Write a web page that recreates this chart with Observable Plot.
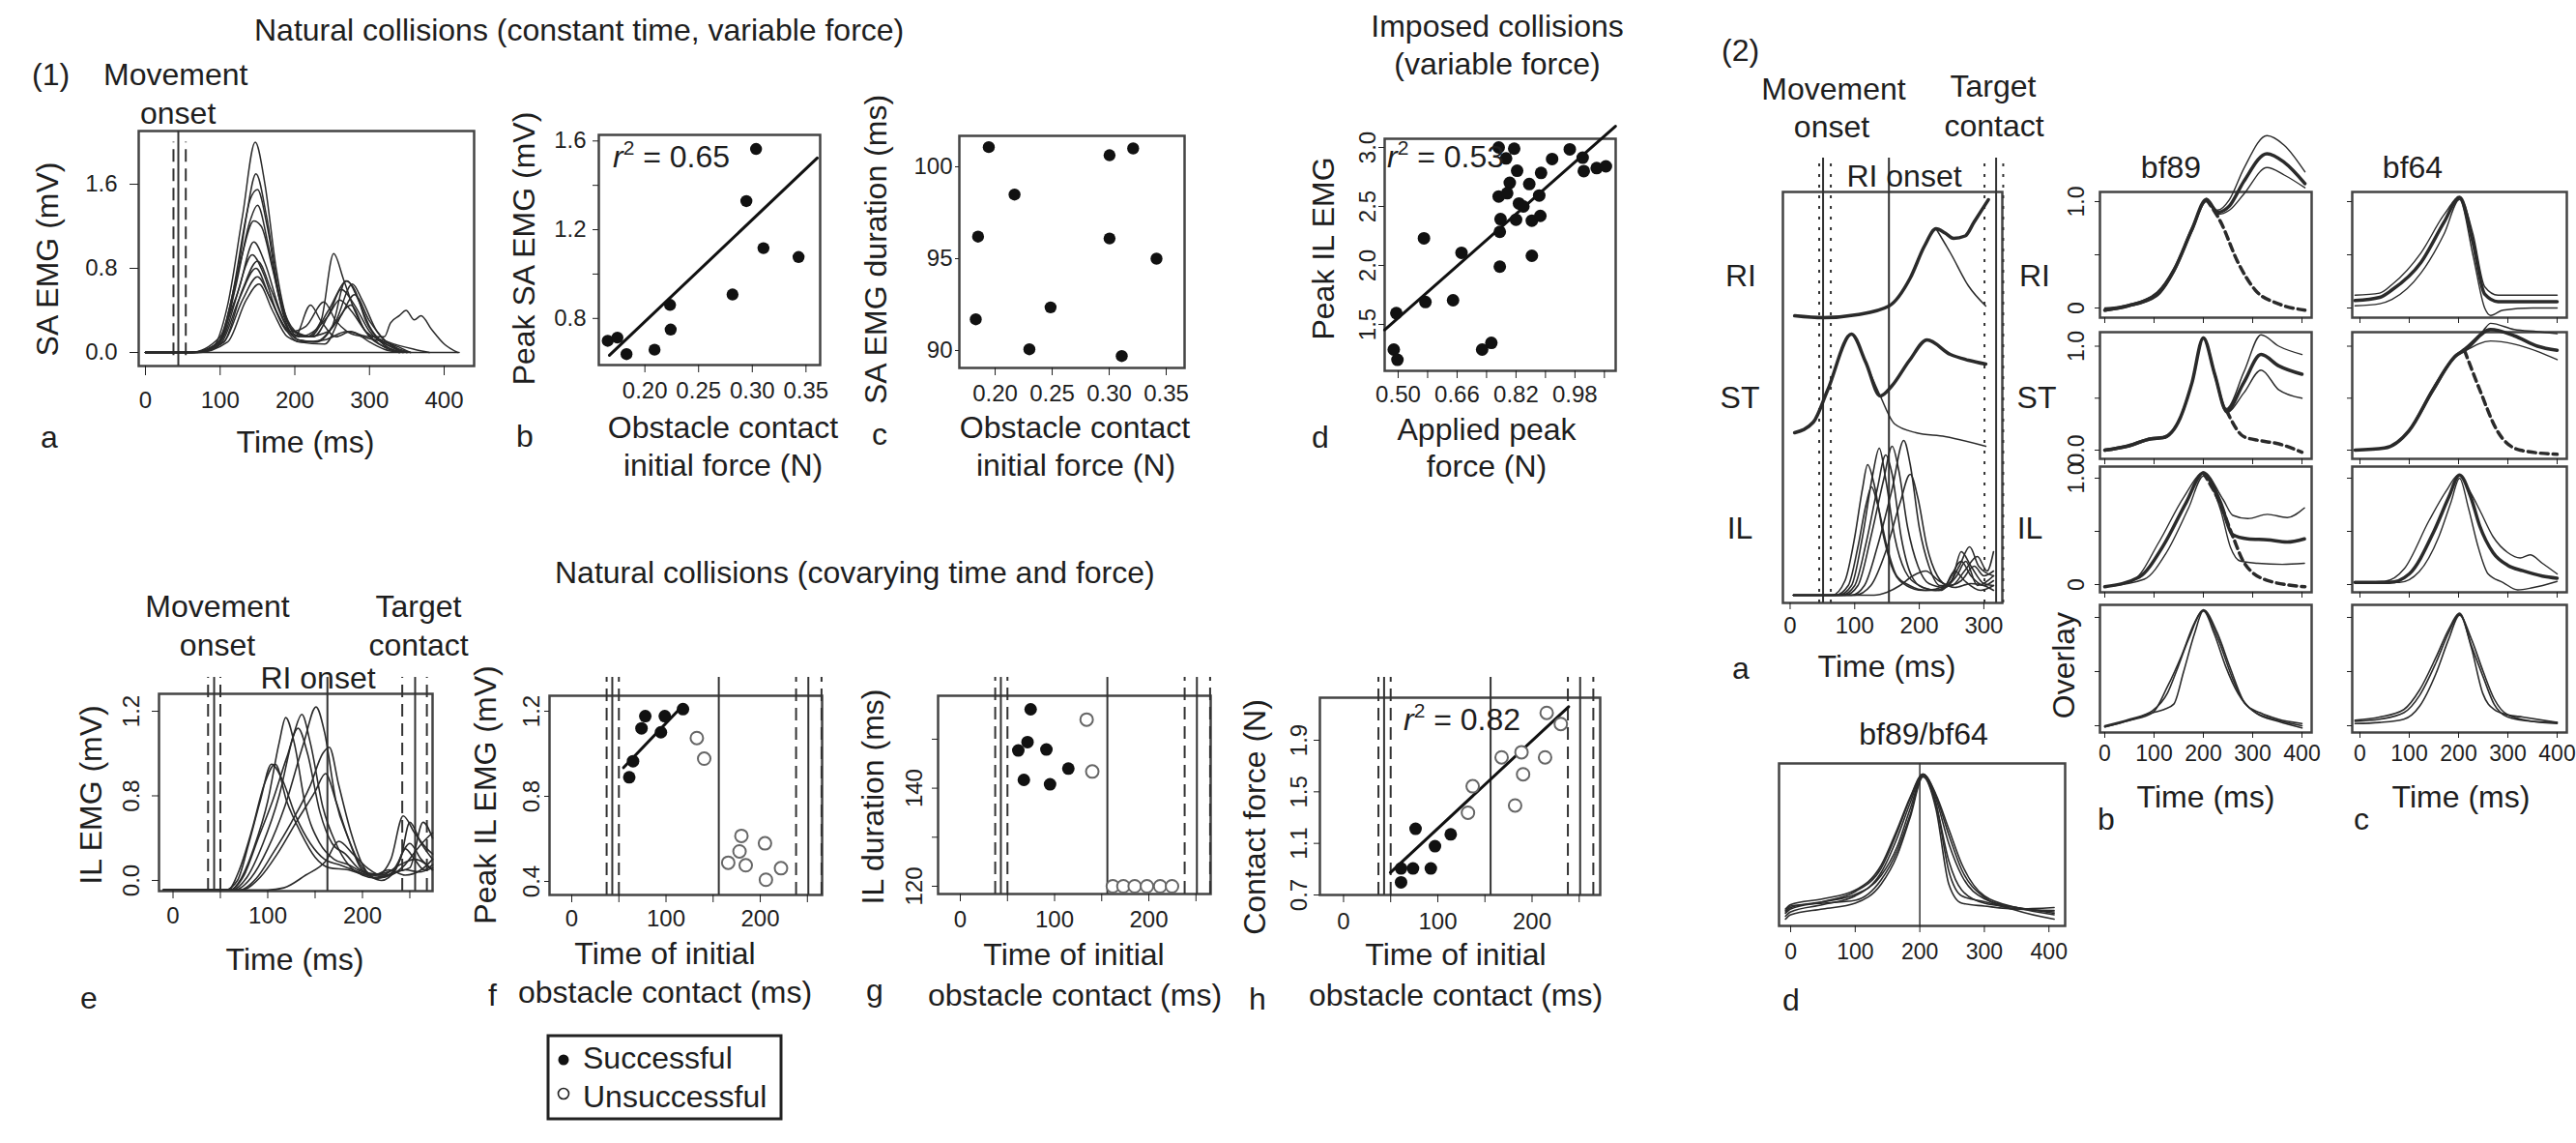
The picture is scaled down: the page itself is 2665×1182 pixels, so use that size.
<!DOCTYPE html>
<html><head><meta charset="utf-8">
<script src="https://cdn.jsdelivr.net/npm/d3@7"></script>
<script src="https://cdn.jsdelivr.net/npm/@observablehq/plot@0.6"></script>
<style>
html,body{margin:0;padding:0;background:#fff;}
#root{position:relative;width:2665px;height:1182px;overflow:hidden;background:#fff;}
</style></head><body><div id="root"></div>
<script>
// ================= DATA =================
// (1a) SA EMG traces: [time ms, mV]
const saTraces = [
 [[0,0],[60,0],[90,0.05],[110,0.45],[130,1.3],[147,2.0],[160,1.6],[175,0.8],[190,0.3],[205,0.15],[225,0.2],[245,0.35],[260,0.5],[275,0.4],[295,0.2],[320,0.05],[340,0]],
 [[0,0],[60,0],[95,0.05],[115,0.5],[135,1.3],[148,1.7],[162,1.3],[178,0.6],[195,0.25],[215,0.15],[235,0.3],[252,0.94],[265,0.7],[280,0.4],[300,0.15],[330,0.03],[345,0]],
 [[0,0],[65,0],[100,0.1],[120,0.6],[140,1.25],[150,1.4],[165,1.0],[180,0.5],[198,0.2],[220,0.15],[245,0.4],[270,0.68],[285,0.5],[300,0.25],[330,0.05],[350,0]],
 [[0,0],[60,0],[100,0.15],[125,0.8],[145,1.25],[155,1.2],[170,0.8],[185,0.35],[205,0.12],[230,0.1],[255,0.3],[277,0.65],[290,0.5],[310,0.2],[335,0.05],[355,0]],
 [[0,0],[65,0],[100,0.1],[125,0.6],[145,1.05],[160,0.85],[180,0.4],[200,0.15],[221,0.45],[235,0.3],[255,0.15],[275,0.2],[300,0.1],[320,0.03],[340,0]],
 [[0,0],[60,0],[95,0.08],[120,0.5],[143,0.93],[158,0.75],[175,0.4],[195,0.2],[215,0.25],[239,0.48],[255,0.3],[270,0.2],[290,0.15],[320,0.1],[340,0.05],[355,0]],
 [[0,0],[70,0],[105,0.1],[130,0.6],[150,0.87],[168,0.6],[185,0.3],[205,0.12],[225,0.1],[250,0.25],[268,0.68],[280,0.6],[295,0.3],[315,0.1],[340,0]],
 [[0,0],[60,0],[100,0.08],[125,0.5],[148,0.8],[165,0.55],[185,0.25],[205,0.1],[240,0.08],[262,0.35],[280,0.55],[300,0.3],[320,0.12],[345,0]],
 [[0,0],[65,0],[105,0.1],[130,0.5],[150,0.72],[168,0.5],[190,0.2],[215,0.15],[245,0.2],[275,0.45],[295,0.2],[325,0.1],[360,0.03],[380,0]],
 [[0,0],[70,0],[110,0.1],[135,0.5],[152,0.65],[170,0.4],[190,0.15],[210,0.1],[240,0.12],[270,0.2],[300,0.15],[320,0.15],[328,0.28],[340,0.35],[349,0.40],[360,0.31],[369,0.35],[383,0.22],[400,0.08],[418,0]],
 [[0,0],[65,0],[100,0.12],[122,0.7],[140,1.45],[150,1.55],[163,1.2],[180,0.5],[200,0.2],[225,0.15],[248,0.4],[262,0.6],[280,0.45],[300,0.2],[330,0.05],[350,0]],
 [[0,0],[420,0]]
];
const saEvents = [{t:37.5,s:"dash"},{t:44,s:"solid"},{t:54,s:"dash"}];

// (1b) peak SA EMG vs obstacle contact initial force
const peakSA = [[0.1654,0.699],[0.1744,0.7135],[0.1829,0.639],[0.209,0.659],[0.2234,0.861],[0.224,0.75],[0.2816,0.908],[0.2945,1.329],[0.3035,1.564],[0.3104,1.117],[0.3431,1.077]];
const peakSAFit = [[0.167,0.634],[0.3605,1.523]];
// (1c) SA EMG duration
const saDuration = [[0.1944,101.07],[0.185,96.2],[0.183,91.7],[0.217,98.49],[0.230,90.07],[0.2486,92.35],[0.3003,100.63],[0.3003,96.1],[0.311,89.7],[0.321,101.0],[0.3415,95.0]];
// (1d) imposed collisions
const ilPeakImposed = [[0.773,3.0],[0.815,2.99],[0.793,2.907],[0.823,2.803],[0.888,2.784],[0.918,2.902],[0.966,2.984],[1.001,2.913],[1.004,2.80],[1.039,2.825],[1.064,2.84],[0.803,2.70],[0.856,2.69],[0.773,2.585],[0.796,2.612],[0.828,2.525],[0.840,2.50],[0.883,2.593],[0.778,2.393],[0.820,2.388],[0.863,2.38],[0.886,2.42],[0.776,2.285],[0.570,2.23],[0.672,2.107],[0.776,1.99],[0.863,2.082],[0.495,1.596],[0.574,1.69],[0.649,1.705],[0.488,1.287],[0.498,1.20],[0.728,1.287],[0.753,1.344]];
const ilPeakFit = [[0.4633,1.453],[1.09,3.18]];

// (1e) IL EMG traces [ms, mV]; axis labels 0.0 / 0.8 / 1.2 are equally spaced in the original
const eAxisValues = [0, 0.8, 1.2];
const ilTraces = [
 [[-10,-0.09],[55,-0.09],[68,0.0],[80,0.35],[92,0.75],[104,0.95],[115,0.88],[130,0.6],[145,0.35],[160,0.2],[175,0.15],[190,0.1],[205,0.05],[220,0.0],[235,0.1],[245,0.3],[255,0.2],[265,0.1],[274,0.15]],
 [[-10,-0.09],[60,-0.09],[72,0.02],[85,0.3],[100,0.75],[112,1.05],[119,1.17],[128,1.05],[140,0.7],[155,0.35],[170,0.2],[185,0.15],[200,0.08],[215,0.05],[230,0.2],[243,0.61],[255,0.45],[268,0.3],[274,0.25]],
 [[-10,-0.09],[62,-0.09],[78,0.03],[95,0.35],[112,0.8],[128,1.1],[136,1.185],[145,1.05],[158,0.7],[172,0.35],[185,0.15],[200,0.05],[215,0.02],[230,0.05],[245,0.15],[258,0.3],[268,0.4],[274,0.45]],
 [[-10,-0.09],[65,-0.09],[82,0.02],[100,0.3],[118,0.7],[138,1.05],[151,1.22],[160,1.1],[172,0.75],[185,0.4],[198,0.12],[212,0.03],[228,0.05],[245,0.1],[260,0.08],[274,0.12]],
 [[-10,-0.09],[60,-0.09],[75,0.05],[90,0.4],[105,0.75],[120,0.98],[132,1.12],[142,1.0],[155,0.65],[168,0.35],[182,0.25],[198,0.1],[215,0.06],[232,0.1],[250,0.35],[262,0.2],[274,0.1]],
 [[-10,-0.09],[70,-0.09],[88,0.02],[105,0.25],[125,0.55],[145,0.85],[158,1.0],[165,1.03],[175,0.85],[188,0.45],[200,0.15],[215,0.02],[235,0.08],[250,0.12],[264,0.55],[274,0.4]],
 [[-10,-0.09],[72,-0.09],[92,0.03],[110,0.25],[130,0.55],[150,0.82],[161,0.905],[172,0.75],[185,0.4],[200,0.12],[212,0.05],[228,0.1],[245,0.05],[262,0.1],[274,0.2]],
 [[-10,-0.09],[100,-0.09],[117,-0.07],[140,0.05],[161,0.18],[175,0.37],[190,0.25],[205,0.12],[220,0.05],[240,0.15],[255,0.2],[274,0.1]],
 [[-10,-0.09],[58,-0.09],[70,0.1],[84,0.5],[96,0.85],[108,0.95],[120,0.75],[135,0.45],[150,0.22],[165,0.12],[185,0.1],[205,0.05],[225,0.05],[240,0.2],[250,0.55],[262,0.35],[274,0.2]]
];
const eEvents = [{t:37,s:"dash"},{t:43.4,s:"solid"},{t:50,s:"dash"},{t:163,s:"solid"},{t:242,s:"dash"},{t:255.6,s:"solid"},{t:268,s:"dash"}];
const fghEvents = [{t:37,s:"dash"},{t:43,s:"solid"},{t:50,s:"dash"},{t:156,s:"solid"},{t:238,s:"dash"},{t:251,s:"solid"},{t:265,s:"dash"}];

// (1f) peak IL EMG vs time of contact
const fSuccess = [[61,0.8896],[65,0.965],[74,1.1195],[78,1.177],[94.6,1.101],[98.7,1.177],[118,1.21]];
const fFail = [[132.7,1.074],[140.5,0.977],[166,0.488],[180,0.614],[178,0.541],[184.6,0.476],[205,0.579],[206,0.408],[222,0.462]];
const fFit = [[55,0.935],[117,1.2227]];
// (1g) IL duration
const gSuccess = [[74.6,156.1],[71.3,149.4],[61.5,147.7],[91.3,147.9],[114.6,144.0],[67.4,141.7],[95.2,140.8]];
const gFail = [[134,154.0],[140,143.4],[161.8,120],[173,120],[185,120],[198,120],[212,120],[224.6,120]];
// (1h) contact force
const hSuccess = [[61,0.798],[61,0.906],[73.7,0.906],[76.4,1.213],[92.6,0.906],[97,1.078],[113.7,1.17]];
const hFail = [[132,1.338],[137,1.543],[167.7,1.767],[188.8,1.807],[190.5,1.636],[182,1.394],[213.8,1.767],[215.5,2.112],[230.5,2.026]];
const hFit = [[49.7,0.874],[238.8,2.16]];

// (2a) RI / ST / IL traces (amplitude, row offset)
const rowOffset2a = [2.97, 1.76, 0.08]; // RI, ST, IL
const riThick = [[7,0],[51,-0.02],[103,0.01],[153,0.10],[186,0.39],[208,0.72],[226,0.90],[240,0.855],[253,0.80],[271,0.825],[285,0.97],[307,1.2]];
const riThin = [[226,0.90],[249,0.64],[276,0.31],[303,0.10]];
const stThick = [[7,0],[36,0.11],[58,0.44],[95,1.02],[117,0.73],[139.6,0.38],[157,0.48],[185,0.75],[212,0.96],[248,0.81],[276,0.75],[303,0.71]];
const stThin = [[117,0.73],[139.6,0.38],[162,0.09],[195,0],[240,-0.04],[303,-0.14]];
const ilTraces2a = [
 [[5,0],[70,0],[90,0.1],[105,0.5],[118,0.95],[126,1.12],[135,0.95],[150,0.5],[165,0.2],[185,0.1],[210,0.05],[240,0.1],[265,0.35],[280,0.2],[300,0.1],[315,0.15]],
 [[5,0],[75,0],[95,0.1],[112,0.6],[128,1.25],[138,1.52],[148,1.2],[162,0.6],[178,0.25],[200,0.1],[225,0.05],[250,0.15],[265,0.45],[280,0.3],[300,0.12],[315,0.1]],
 [[5,0],[85,0],[105,0.1],[125,0.6],[145,1.2],[158,1.54],[168,1.3],[182,0.7],[198,0.3],[215,0.12],[240,0.08],[262,0.3],[278,0.5],[292,0.3],[315,0.2]],
 [[5,0],[95,0],[115,0.1],[135,0.5],[158,1.1],[176,1.6],[186,1.35],[200,0.7],[215,0.3],[232,0.1],[250,0.1],[270,0.25],[290,0.4],[305,0.25],[315,0.45]],
 [[5,0],[100,0],[125,0.1],[148,0.45],[170,0.95],[186,1.25],[198,1.0],[212,0.5],[228,0.2],[245,0.1],[265,0.15],[285,0.3],[300,0.2],[315,0.25]],
 [[5,0],[65,0],[85,0.15],[100,0.6],[112,1.1],[120,1.35],[130,1.15],[145,0.6],[160,0.25],[180,0.1],[205,0.05],[235,0.05],[255,0.25],[270,0.15],[295,0.05],[315,0.1]],
 [[5,0],[80,0],[100,0.1],[118,0.55],[135,1.1],[148,1.45],[158,1.25],[172,0.6],[188,0.2],[205,0.08],[230,0.05],[258,0.2],[272,0.35],[290,0.1],[315,0.2]],
 [[5,0],[130,0],[150,0.03],[170,0.1],[190,0.2],[210,0.25],[230,0.15],[255,0.08],[280,0.12],[300,0.1],[315,0.05]]
];
const a2Events = [{t:45,s:"dot"},{t:51,s:"solid"},{t:63,s:"dot"},{t:153,s:"solid"},{t:301,s:"dot"},{t:319,s:"solid"},{t:330,s:"dot"}];

// (2b) bf89 normalized EMG: [mean, upper, lower] and unsuccessful (dashed)
const bf89RI = [
 [[0,-0.02],[47,0.02],[106,0.13],[141,0.36],[177,0.74],[206,1.02],[229,0.90],[253,0.96],[282,1.19],[329,1.45],[364,1.37],[406,1.17]],
 [[0,0],[47,0.03],[106,0.15],[141,0.38],[177,0.76],[206,1.02],[229,0.92],[253,1.02],[282,1.31],[329,1.62],[364,1.53],[406,1.28]],
 [[0,-0.03],[47,0.01],[106,0.11],[141,0.34],[177,0.72],[206,1.0],[229,0.88],[253,0.92],[282,1.07],[329,1.32],[364,1.25],[406,1.13]]];
const bf89RIfail = [[206,1.02],[235,0.81],[270,0.43],[305,0.17],[352,0.04],[406,-0.02]];
const bf89ST = [
 [[0,0],[47,0.04],[94,0.11],[118,0.12],[153,0.31],[177,0.65],[200,1.08],[223,0.73],[247,0.38],[282,0.65],[317,0.92],[353,0.81],[400,0.73]],
 [[0,0.01],[47,0.05],[94,0.12],[118,0.13],[153,0.32],[177,0.66],[200,1.09],[223,0.75],[247,0.40],[282,0.75],[317,1.11],[353,1.0],[400,0.92]],
 [[0,-0.01],[47,0.03],[94,0.1],[118,0.11],[153,0.3],[177,0.64],[200,1.07],[223,0.71],[247,0.36],[282,0.55],[317,0.77],[353,0.58],[400,0.5]]];
const bf89STfail = [[247,0.38],[282,0.13],[317,0.09],[353,0.06],[400,-0.02]];
const bf89IL = [
 [[0,-0.02],[70,0.07],[118,0.36],[165,0.77],[200,1.05],[235,0.77],[259,0.47],[290,0.43],[330,0.42],[370,0.4],[405,0.43]],
 [[0,-0.02],[60,0.05],[110,0.4],[160,0.82],[200,1.05],[240,0.8],[260,0.65],[290,0.62],[330,0.66],[370,0.63],[405,0.72]],
 [[0,-0.02],[80,0.05],[125,0.3],[170,0.72],[200,1.02],[235,0.7],[255,0.35],[275,0.22],[310,0.2],[360,0.19],[405,0.2]]];
const bf89ILfail = [[200,1.05],[235,0.75],[260,0.45],[282,0.21],[329,0.04],[406,-0.02]];
const bf89Overlay = [
 [[0,-0.01],[50,0.05],[97,0.12],[127,0.36],[156,0.65],[182,0.95],[200,1.07],[228,0.86],[254,0.54],[280,0.24],[306,0.12],[352,0.04],[400,-0.02]],
 [[0,-0.01],[50,0.05],[97,0.12],[120,0.15],[140,0.2],[160,0.5],[182,0.85],[200,1.06],[222,0.85],[245,0.55],[270,0.3],[300,0.14],[352,0.05],[400,0.0]],
 [[0,0.0],[50,0.06],[97,0.14],[127,0.3],[145,0.5],[170,0.8],[200,1.06],[230,0.8],[258,0.45],[285,0.2],[315,0.12],[352,0.06],[400,0.02]]];
// (2c) bf64
const bf64RI = [
 [[-10,0.07],[40,0.1],[65,0.17],[124,0.43],[171,0.81],[202,1.04],[229,0.62],[253,0.13],[280,0.06],[350,0.06],[400,0.06]],
 [[-10,0.12],[40,0.14],[65,0.22],[124,0.52],[171,0.88],[202,1.04],[229,0.7],[253,0.2],[280,0.12],[350,0.12],[400,0.12]],
 [[-10,0.02],[40,0.04],[65,0.08],[124,0.33],[171,0.7],[202,1.02],[229,0.5],[253,0.0],[265,-0.07],[290,-0.02],[350,0.0],[400,0.0]]];
const bf64ST = [
 [[-10,0],[50,0.02],[100,0.19],[148,0.58],[195,0.91],[212,0.96],[265,1.16],[313,1.10],[360,1.0],[400,0.96]],
 [[-10,0],[50,0.02],[100,0.2],[148,0.6],[195,0.92],[212,0.98],[250,1.15],[265,1.22],[313,1.16],[360,1.14],[400,1.12]],
 [[-10,0],[50,0.02],[100,0.18],[148,0.56],[195,0.9],[212,0.95],[265,1.05],[313,1.02],[360,0.95],[400,0.87]]];
const bf64STfail = [[212,0.96],[243,0.58],[278,0.19],[325,0.0],[400,-0.04]];
const bf64IL = [
 [[-10,0.02],[60,0.02],[100,0.1],[150,0.5],[180,0.82],[202,1.03],[225,0.82],[243,0.55],[270,0.3],[300,0.18],[330,0.13],[370,0.08],[400,0.06]],
 [[-10,0.02],[50,0.03],[90,0.15],[140,0.6],[175,0.88],[200,1.03],[225,0.86],[243,0.7],[270,0.45],[300,0.3],[325,0.25],[345,0.28],[370,0.2],[400,0.1]],
 [[-10,0.02],[80,0.02],[120,0.12],[160,0.45],[185,0.78],[202,1.0],[220,0.72],[240,0.35],[260,0.1],[290,0.02],[320,-0.05],[350,-0.03],[400,0.03]]];
const bf64Overlay = [
 [[-10,0.05],[40,0.08],[89,0.15],[121,0.33],[154,0.63],[180,0.89],[202,1.04],[226,0.74],[250,0.45],[272,0.2],[300,0.08],[350,0.04],[400,0.03]],
 [[-10,0.04],[40,0.06],[89,0.12],[121,0.28],[154,0.58],[180,0.86],[202,1.03],[226,0.72],[249,0.3],[272,0.15],[300,0.1],[330,0.08],[400,0.03]],
 [[-10,0.02],[40,0.03],[89,0.06],[121,0.18],[154,0.48],[180,0.8],[202,1.02],[226,0.8],[250,0.5],[272,0.25],[300,0.1],[350,0.04],[400,0.02]]];
// (2d) bf89/bf64 overlay
const bfBoth = [
 [[-8,0.07],[0,0.1],[50,0.14],[100,0.2],[140,0.37],[165,0.62],[185,0.84],[205,1.0],[225,0.86],[245,0.62],[265,0.38],[300,0.16],[350,0.08],[408,0.03]],
 [[-8,0.02],[0,0.05],[50,0.1],[100,0.16],[140,0.32],[165,0.56],[185,0.8],[205,1.0],[225,0.83],[245,0.52],[265,0.3],[300,0.14],[350,0.08],[408,0.05]],
 [[-8,0.05],[0,0.08],[50,0.12],[100,0.17],[140,0.3],[165,0.5],[185,0.76],[205,0.99],[225,0.8],[245,0.33],[265,0.16],[300,0.12],[350,0.07],[408,0.06]],
 [[-8,0.0],[0,0.03],[50,0.07],[100,0.11],[140,0.24],[165,0.44],[185,0.7],[205,0.98],[225,0.76],[245,0.24],[265,0.11],[300,0.09],[350,0.07],[408,0.08]],
 [[-8,0.04],[0,0.07],[50,0.12],[100,0.19],[140,0.35],[165,0.6],[185,0.83],[205,1.0],[225,0.85],[245,0.58],[265,0.34],[300,0.15],[350,0.06],[408,0.0]],
 [[-8,0.06],[0,0.09],[50,0.11],[100,0.13],[140,0.27],[165,0.47],[185,0.72],[205,0.99],[225,0.79],[245,0.4],[265,0.2],[300,0.11],[350,0.08],[408,0.04]]];
const d2Events = [{t:200,s:"solid"}];

// ================= RENDER =================
const FONT = "'Liberation Sans', Arial, Helvetica, sans-serif";
const INK = "#1e1e1e";
const root = document.getElementById("root");

const rows = (traces, off = 0, fy = (v) => v) => { const out = []; traces.forEach((tr, id) => tr.forEach(([t, v]) => out.push({t, v: fy(v) + off, id}))); return out; };
const pts = (a) => a.map(([x, y]) => ({x, y}));
const frame = () => Plot.frame({stroke: "#444", strokeWidth: 2.5});
const axX = (ticks, o = {}) => Plot.axisX({ticks, tickSize: 8, tickPadding: 9, fontSize: 24, label: null, ...o});
const axY = (ticks, o = {}) => Plot.axisY({ticks, tickSize: 7, tickPadding: 7, fontSize: 24, label: null, ...o});
const blank = () => "";
function events(evs, y1, y2, sw = 2) {
  const dash = {solid: null, dash: "13,7", dot: "3,8"};
  return ["solid", "dash", "dot"].map(s => {
    const d = evs.filter(e => e.s === s);
    if (!d.length) return null;
    const o = {x: "t", y1, y2, stroke: "#333", strokeWidth: sw};
    if (dash[s]) o.strokeDasharray = dash[s];
    return Plot.ruleX(d, o);
  });
}
function panel({frame: [x0, y0, x1, y1], x, y, marks, ml = 120, mr = 40, mt = 90, mb = 80}) {
  const width = x1 - x0 + ml + mr, height = y1 - y0 + mt + mb;
  const p = Plot.plot({width, height, marginLeft: ml, marginRight: mr, marginTop: mt, marginBottom: mb,
    x: {...x, axis: null}, y: {...y, axis: null},
    style: {background: "transparent", overflow: "visible", fontFamily: FONT, fontSize: "24px", color: INK, maxWidth: "none"},
    marks});
  p.style.position = "absolute"; p.style.left = (x0 - ml) + "px"; p.style.top = (y0 - mt) + "px";
  root.appendChild(p);
}
const traceLine = (data, sw = 1.6, o = {}) => Plot.line(data, {x: "t", y: "v", z: "id", curve: "monotone-x", stroke: "#2a2a2a", strokeWidth: sw, ...o});
const f2 = d3.format(".2f"), f1 = d3.format(".1f");

// (1a)
panel({frame: [143, 135, 490, 378], x: {domain: [-9.06, 440.1]}, y: {domain: [-0.1287, 2.106]},
  marks: [frame(), events(saEvents.filter(e => e.s === "solid"), -0.1287, 2.106), events(saEvents.filter(e => e.s !== "solid"), -0.03, 2.0),
    traceLine(rows(saTraces), 1.5),
    axX([0, 100, 200, 300, 400], {tickSize: 10, tickPadding: 16}), axY([0, 0.8, 1.6], {tickFormat: f1, tickSize: 9, tickPadding: 13})]});
// (1b)
panel({frame: [619, 139, 848, 377], x: {domain: [0.1571, 0.3632]}, y: {domain: [0.5899, 1.6274]},
  marks: [frame(), Plot.line(pts(peakSAFit), {x: "x", y: "y", stroke: "#111", strokeWidth: 3}),
    Plot.dot(pts(peakSA), {x: "x", y: "y", r: 6.2, fill: "#111"}),
    axX([0.20, 0.25, 0.30, 0.35], {tickFormat: f2}), axY([0.8, 1.2, 1.6], {tickFormat: f1, tickSize: 6}), axY([1.0, 1.4], {tickFormat: blank, tickSize: 6})]});
// (1c)
panel({frame: [992, 140, 1225, 380], x: {domain: [0.1686, 0.3661]}, y: {domain: [89.053, 101.684]},
  marks: [frame(), Plot.dot(pts(saDuration), {x: "x", y: "y", r: 6.2, fill: "#111"}),
    axX([0.20, 0.25, 0.30, 0.35], {tickFormat: f2}), axY([90, 95, 100], {tickSize: 4, tickPadding: 3})]});
// (1d)
panel({frame: [1432, 143, 1671, 383], x: {domain: [0.4633, 1.0906]}, y: {domain: [1.1066, 3.0738]},
  marks: [frame(), Plot.line(pts(ilPeakFit), {x: "x", y: "y", stroke: "#111", strokeWidth: 3}),
    Plot.dot(pts(ilPeakImposed), {x: "x", y: "y", r: 6.5, fill: "#111"}),
    axX([0.50, 0.66, 0.82, 0.98], {tickFormat: f2, tickPadding: 7}), axX([0.58, 0.74, 0.90, 1.06], {tickFormat: blank}),
    axY([1.5, 2.0, 2.5, 3.0], {tickFormat: f1, tickRotate: -90, tickSize: 6, tickPadding: 4})]});

// (1e) — labelled values 0.0, 0.8, 1.2 sit at equal steps on the original axis
const eWarp = d3.scaleLinear().domain(eAxisValues).range([0, 1, 2]);
panel({frame: [164, 717, 447, 921], x: {domain: [-14.8, 274.0]}, y: {domain: [-0.126, 2.206]},
  marks: [frame(), events(eEvents, -0.126, 2.4), traceLine(rows(ilTraces, 0, eWarp), 1.6),
    axX([0, 100, 200], {tickPadding: 8}), axX([50, 150, 250], {tickFormat: blank}),
    axY([0, 1, 2], {tickFormat: (d, i) => f1(eAxisValues[i]), tickRotate: -90, tickSize: 7, tickPadding: 14})]});
// (1f)
panel({frame: [568, 719, 850, 925], x: {domain: [-23.6, 265.6]}, y: {domain: [0.3364, 1.2727]},
  marks: [frame(), events(fghEvents, 0.3364, 1.359),
    Plot.line(pts(fFit), {x: "x", y: "y", stroke: "#111", strokeWidth: 3}),
    Plot.dot(pts(fSuccess), {x: "x", y: "y", r: 6.5, fill: "#111"}),
    Plot.dot(pts(fFail), {x: "x", y: "y", r: 6.5, fill: "white", stroke: "#666", strokeWidth: 2}),
    axX([0, 100, 200], {tickPadding: 7}), axX([50, 150, 250], {tickFormat: blank}),
    axY([0.4, 0.8, 1.2], {tickFormat: f1, tickRotate: -90, tickSize: 5, tickPadding: 6})]});
// (1g)
panel({frame: [970, 719, 1252, 924], x: {domain: [-23.6, 265.6]}, y: {domain: [118.42, 158.86]},
  marks: [frame(), events(fghEvents, 118.42, 162.6),
    Plot.dot(pts(gSuccess), {x: "x", y: "y", r: 6.5, fill: "#111"}),
    Plot.dot(pts(gFail), {x: "x", y: "y", r: 6.5, fill: "white", stroke: "#666", strokeWidth: 2}),
    axX([0, 100, 200]), axX([50, 150, 250], {tickFormat: blank}),
    axY([120, 140], {tickRotate: -90, tickSize: 6, tickPadding: 11}), axY([130, 150], {tickFormat: blank, tickSize: 6})]});
// (1h)
panel({frame: [1365, 721, 1655, 925], x: {domain: [-25.1, 272.3]}, y: {domain: [0.70, 2.23]},
  marks: [frame(), events(fghEvents, 0.70, 2.3875),
    Plot.line(pts(hFit), {x: "x", y: "y", stroke: "#111", strokeWidth: 3}),
    Plot.dot(pts(hSuccess), {x: "x", y: "y", r: 6.5, fill: "#111"}),
    Plot.dot(pts(hFail), {x: "x", y: "y", r: 6.5, fill: "white", stroke: "#666", strokeWidth: 2}),
    axX([0, 100, 200], {tickPadding: 10}), axX([50, 150, 250], {tickFormat: blank}),
    axY([0.7, 1.1, 1.5, 1.9], {tickFormat: f1, tickRotate: -90, tickSize: 6, tickPadding: 8})]});

// (2a)
panel({frame: [1844, 198, 2071, 623], x: {domain: [-11.2, 328.6]}, y: {domain: [0, 4.25]},
  marks: [frame(), events(a2Events, 0, 4.6),
    traceLine(rows([riThick], rowOffset2a[0]), 3.5), traceLine(rows([riThin], rowOffset2a[0]), 1.5),
    traceLine(rows([stThick], rowOffset2a[1]), 3.5), traceLine(rows([stThin], rowOffset2a[1]), 1.5),
    traceLine(rows(ilTraces2a, rowOffset2a[2]), 1.6),
    axX([0, 100, 200, 300], {tickSize: 7, tickPadding: 7})]});

// (2b)(2c)
const rowFrames = [[198, 328, [-0.0909, 1.0909]], [343, 474, [-0.0837, 1.1349]], [482, 612, [-0.0727, 1.1091]], [625, 757, [-0.0625, 1.116]]];
const yLabels89 = [["0", "1.0"], ["0.0", "1.0"], ["0", "1.0"], null];
const cols = [
  {x0: 2172, x1: 2391, dom: [-9.8, 419.6], data: [bf89RI, bf89ST, bf89IL, bf89Overlay], fail: [bf89RIfail, bf89STfail, bf89ILfail, null], labels: true},
  {x0: 2433, x1: 2655, dom: [-15.7, 419.6], data: [bf64RI, bf64ST, bf64IL, bf64Overlay], fail: [null, bf64STfail, null, null], labels: false}];
cols.forEach(c => rowFrames.forEach(([ya, yb, ydom], r) => {
  const set = c.data[r];
  const m = [frame()];
  if (r < 3) {
    m.push(traceLine(rows([set[0]]), 3.5), traceLine(rows(set.slice(1)), 1.4));
    if (c.fail[r]) m.push(traceLine(rows([c.fail[r]]), 3.5, {strokeDasharray: "8,5"}));
  } else {
    m.push(traceLine(rows(set), 1.6));
  }
  m.push(axX([0, 100, 200, 300, 400], r === 3 ? {tickSize: 6, tickPadding: 7, fontSize: 23} : {tickSize: 6, tickFormat: blank}));
  if (c.labels && yLabels89[r]) {
    const lab = yLabels89[r];
    m.push(axY([0, 1], {tickRotate: -90, tickSize: 5, tickPadding: 12, fontSize: 23, tickFormat: (d) => lab[d]}));
    m.push(axY([0.5], {tickSize: 5, tickFormat: blank}));
  } else {
    m.push(axY([0, 0.5, 1], {tickSize: 5, tickFormat: blank}));
  }
  panel({frame: [c.x0, ya, c.x1, yb], x: {domain: c.dom}, y: {domain: ydom}, marks: m, mt: 80, mb: 60});
}));

// (2d)
panel({frame: [1840, 789, 2136, 957], x: {domain: [-18, 425.1]}, y: {domain: [-0.0467, 1.0733]},
  marks: [frame(), events(d2Events, -0.0467, 1.0733, 1.5), traceLine(rows(bfBoth), 1.6),
    axX([0, 100, 200, 300, 400], {tickSize: 7, tickPadding: 11, fontSize: 23})]});

// ================= TEXT OVERLAY =================
const NS = "http://www.w3.org/2000/svg";
const ov = document.createElementNS(NS, "svg");
ov.setAttribute("width", 2665); ov.setAttribute("height", 1182);
ov.style.cssText = "position:absolute;left:0;top:0;overflow:visible;font-family:" + FONT + ";fill:" + INK;
root.appendChild(ov);
function T(str, x, y, o = {}) {
  const t = document.createElementNS(NS, "text");
  t.setAttribute("transform", `translate(${x},${y})` + (o.rot ? " rotate(-90)" : ""));
  t.setAttribute("text-anchor", o.anchor || (o.rot ? "middle" : "start"));
  t.setAttribute("font-size", o.size || 32);
  t.textContent = str;
  ov.appendChild(t);
}
function R2(val, x, y) {
  const t = document.createElementNS(NS, "text");
  t.setAttribute("x", x); t.setAttribute("y", y); t.setAttribute("font-size", 32);
  const a = document.createElementNS(NS, "tspan"); a.setAttribute("font-style", "italic"); a.textContent = "r";
  const b = document.createElementNS(NS, "tspan"); b.setAttribute("dy", -13); b.setAttribute("font-size", 21); b.textContent = "2";
  const c = document.createElementNS(NS, "tspan"); c.setAttribute("dy", 13); c.textContent = " = " + val;
  t.append(a, b, c); ov.appendChild(t);
}
const M = {anchor: "middle"}, ROT = {rot: true};
T("Natural collisions (constant time, variable force)", 263, 42);
T("(1)", 33, 88); T("Movement", 107, 88); T("onset", 145, 128);
T("SA EMG (mV)", 60, 268, ROT); T("Time (ms)", 316, 468, M); T("a", 42, 463);
T("Peak SA EMG (mV)", 553, 257, ROT); R2("0.65", 634, 173);
T("Obstacle contact", 748, 453, M); T("initial force (N)", 748, 492, M); T("b", 534, 462);
T("SA EMG duration (ms)", 917, 258, ROT);
T("Obstacle contact", 1112, 453, M); T("initial force (N)", 1113, 492, M); T("c", 902, 460);
T("Imposed collisions", 1549, 38, M); T("(variable force)", 1549, 77, M);
T("Peak IL EMG", 1380, 257, ROT); R2("0.53", 1435, 173);
T("Applied peak", 1538, 455, M); T("force (N)", 1538, 493, M); T("d", 1357, 463);

T("(2)", 1781, 63);
T("Movement", 1897, 103, M); T("onset", 1895, 142, M);
T("Target", 2062, 100, M); T("contact", 2063, 141, M); T("RI onset", 1970, 193, M);
T("RI", 1801, 296, M); T("ST", 1800, 422, M); T("IL", 1800, 557, M);
T("a", 1792, 702); T("Time (ms)", 1952, 700, M);
T("bf89", 2246, 184, M); T("bf64", 2496, 184, M);
T("RI", 2105, 296, M); T("ST", 2107, 422, M); T("IL", 2100, 557, M);
T("Overlay", 2146, 688, ROT);
T("Time (ms)", 2282, 835, M); T("Time (ms)", 2546, 835, M);
T("b", 2170, 858); T("c", 2435, 858);
T("bf89/bf64", 1990, 770, M); T("d", 1844, 1045);

T("Natural collisions (covarying time and force)", 574, 603);
T("Movement", 225, 638, M); T("onset", 225, 678, M); T("Target", 433, 638, M); T("contact", 433, 678, M); T("RI onset", 329, 712, M);
T("IL EMG (mV)", 105, 822, ROT); T("Time (ms)", 305, 1003, M); T("e", 83, 1043);
T("Peak IL EMG (mV)", 513, 822, ROT);
T("Time of initial", 688, 997, M); T("obstacle contact (ms)", 688, 1037, M); T("f", 505, 1040);
T("IL duration (ms)", 914, 824, ROT);
T("Time of initial", 1111, 998, M); T("obstacle contact (ms)", 1112, 1040, M); T("g", 896, 1035);
T("Contact force (N)", 1309, 845, ROT); R2("0.82", 1452, 755);
T("Time of initial", 1506, 998, M); T("obstacle contact (ms)", 1506, 1040, M); T("h", 1292, 1044);

// legend
const lg = document.createElementNS(NS, "g");
lg.innerHTML = '<rect x="567" y="1071" width="241" height="86" fill="white" stroke="#222" stroke-width="3"/>' +
  '<circle cx="583" cy="1096" r="5.5" fill="#111"/>' +
  '<circle cx="583" cy="1131" r="5.5" fill="white" stroke="#222" stroke-width="1.6"/>';
ov.appendChild(lg);
T("Successful", 603, 1105); T("Unsuccessful", 603, 1145);
</script></body></html>
